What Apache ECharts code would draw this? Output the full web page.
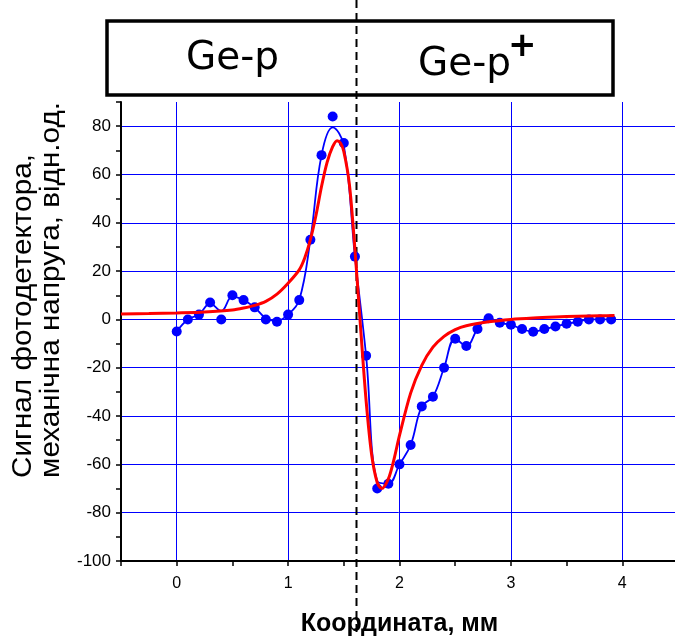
<!DOCTYPE html>
<html>
<head>
<meta charset="utf-8">
<script src="https://cdn.jsdelivr.net/npm/echarts@6/dist/echarts.min.js"></script>
<style>
  html, body { margin: 0; padding: 0; background: #fff; }
  #chart { width: 675px; height: 638px; }
</style>
</head>
<body>
<div id="chart"></div>
<script>
// Scan positions along the sample, mm
const positions = [0, 0.1, 0.2, 0.3, 0.4, 0.5, 0.6, 0.7, 0.8, 0.9,
                   1.0, 1.1, 1.2, 1.3, 1.4, 1.5, 1.6, 1.7, 1.8, 1.9,
                   2.0, 2.1, 2.2, 2.3, 2.4, 2.5, 2.6, 2.7, 2.8, 2.9,
                   3.0, 3.1, 3.2, 3.3, 3.4, 3.5, 3.6, 3.7, 3.8, 3.9];
// Photodetector signal at each position (dots)
const measured = [-5, 0, 2, 7, 0, 10, 8, 5, 0, -1,
                  2, 8, 33, 68, 84, 73, 26, -15, -70, -68,
                  -60, -52, -36, -32, -20, -8, -11, -4, 0.5, -1.4,
                  -2.2, -4, -5.1, -4, -2.9, -1.8, -1, 0, 0, 0];
// Smoothed trace through the measured dots (thin blue curve)
const smoothed = [-5, 0, 2, 6.5, 3.5, 9.5, 8, 5, 0.5, -0.5,
                  2, 8, 33, 68, 79.5, 72, 26, -15, -67, -68,
                  -60, -52, -36, -32, -20, -8, -11, -4, 0.5, -1.4,
                  -2.2, -4, -5.1, -4, -2.9, -1.8, -1, 0, 0, 0];
// Mechanical stress model curve (red)
const modelX = [-0.5, -0.25, 0, 0.25, 0.5, 0.6, 0.7, 0.8, 0.9, 1.0,
                1.1, 1.15, 1.2, 1.25, 1.3, 1.35, 1.4, 1.44, 1.47, 1.5,
                1.55, 1.6, 1.65, 1.7, 1.75, 1.8, 1.84, 1.9, 1.95, 2.0,
                2.1, 2.2, 2.3, 2.4, 2.5, 2.6, 2.8, 3.0, 3.2, 3.4,
                3.6, 3.8, 3.93];
const modelY = [2.2, 2.4, 2.7, 3.1, 3.9, 4.7, 5.8, 7.5, 10.5, 15,
                20.5, 25.5, 33, 43, 55, 65, 71.5, 74, 73, 69.5,
                56, 29, -3, -33.5, -56, -67.5, -70, -66, -58, -48,
                -30.5, -19, -11.5, -7, -4.2, -2.6, -1, 0, 0.6, 1,
                1.3, 1.5, 1.6];
// Boundary between Ge-p and Ge-p+ regions, mm
const junctionX = 1.613;
// Labelled ticks
const xTickLabels = [0, 1, 2, 3, 4];
const yTickLabels = [-100, -80, -60, -40, -20, 0, 20, 40, 60, 80];

const FONT = '"Liberation Sans", Arial, sans-serif';
const GRID_BLUE = '#0000ff';

const chart = echarts.init(document.getElementById('chart'), null, { renderer: 'canvas' });

const option = {
  animation: false,
  backgroundColor: '#ffffff',
  grid: { left: 121, right: -3, top: 102, bottom: 77, containLabel: false, outerBoundsMode: 'none' },
  xAxis: {
    type: 'value',
    min: -0.5,
    max: 4.5,
    interval: 0.5,
    name: 'Координата, мм',
    nameLocation: 'middle',
    nameGap: 51,
    nameTextStyle: { fontFamily: FONT, fontSize: 25, fontWeight: 'bold', color: '#000' },
    axisLine: { onZero: false, lineStyle: { color: '#000', width: 2 } },
    axisTick: { show: true, inside: false, length: 5, lineStyle: { color: '#000', width: 1.5 } },
    axisLabel: {
      fontFamily: FONT, fontSize: 16, color: '#000', margin: 15,
      formatter: v => (xTickLabels.includes(v) ? String(v) : '')
    },
    splitLine: { show: true, lineStyle: { color: ['rgba(0,0,0,0)', GRID_BLUE], width: 1 } }
  },
  yAxis: {
    type: 'value',
    min: -100,
    max: 90,
    interval: 10,
    axisLine: { onZero: false, lineStyle: { color: '#000', width: 2 } },
    axisTick: { show: true, inside: false, length: 5, lineStyle: { color: '#000', width: 1.5 } },
    axisLabel: {
      fontFamily: FONT, fontSize: 17, color: '#000', margin: 10,
      formatter: v => (yTickLabels.includes(v) ? String(v) : '')
    },
    splitLine: { show: true, lineStyle: { color: [GRID_BLUE, 'rgba(0,0,0,0)'], width: 1 } }
  },
  series: [
    {
      name: 'smoothed',
      type: 'line',
      data: positions.map((x, i) => [x, smoothed[i]]),
      smooth: 0.4,
      showSymbol: false,
      lineStyle: { color: GRID_BLUE, width: 1.8 },
      z: 2
    },
    {
      name: 'measured',
      type: 'scatter',
      data: positions.map((x, i) => [x, measured[i]]),
      symbol: 'circle',
      symbolSize: 10,
      itemStyle: { color: GRID_BLUE, opacity: 1 },
      z: 3
    },
    {
      name: 'model',
      type: 'line',
      data: modelX.map((x, i) => [x, modelY[i]]),
      smooth: 0.3,
      showSymbol: false,
      lineStyle: { color: '#ff0000', width: 3 },
      z: 4
    }
  ]
};

chart.setOption(option);

// Region box, its labels, the rotated y-axis caption and the junction line
const jx = Math.round(chart.convertToPixel({ xAxisIndex: 0 }, junctionX)) + 0.5;

chart.setOption({
  graphic: [
    {
      type: 'rect',
      shape: { x: 107, y: 21, width: 506, height: 74 },
      style: { fill: '#ffffff', stroke: '#000000', lineWidth: 3.5 },
      z: 1
    },
    {
      type: 'text',
      x: 186, y: 59,
      style: { text: 'Ge-p', fontFamily: '"DejaVu Sans", Verdana, sans-serif', fontSize: 39,
               fill: '#000', align: 'left', verticalAlign: 'middle' },
      z: 2
    },
    {
      type: 'text',
      x: 418, y: 65,
      style: { text: 'Ge-p', fontFamily: '"DejaVu Sans", Verdana, sans-serif', fontSize: 39,
               fill: '#000', align: 'left', verticalAlign: 'middle' },
      z: 2
    },
    {
      type: 'text',
      x: 508, y: 47,
      style: { text: '+', fontFamily: '"DejaVu Sans", Verdana, sans-serif', fontSize: 34, fontWeight: 'bold',
               fill: '#000', align: 'left', verticalAlign: 'middle' },
      z: 2
    },
    {
      type: 'text',
      x: 24, y: 316,
      rotation: Math.PI / 2,
      scaleX: 1.1,
      style: { text: 'Сигнал фотодетектора,', fontFamily: FONT, fontSize: 27,
               fill: '#000', align: 'center', verticalAlign: 'middle' }
    },
    {
      type: 'text',
      x: 52, y: 290,
      rotation: Math.PI / 2,
      scaleX: 1.1,
      style: { text: 'механічна напруга, відн.од.', fontFamily: FONT, fontSize: 27,
               fill: '#000', align: 'center', verticalAlign: 'middle' }
    },
    {
      type: 'line',
      shape: { x1: jx, y1: 0, x2: jx, y2: 633 },
      style: { stroke: '#000', lineWidth: 2, lineDash: [8, 5] },
      z: 3
    }
  ]
});
</script>
</body>
</html>
